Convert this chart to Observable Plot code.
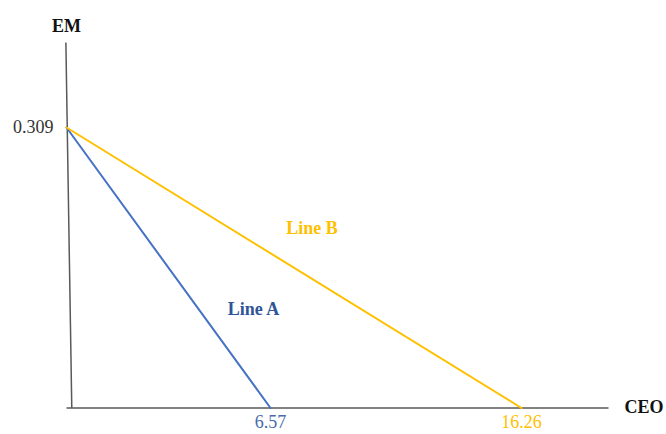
<!DOCTYPE html>
<html>
<head>
<meta charset="utf-8">
<script src="https://cdn.jsdelivr.net/npm/d3@7"></script>
<script src="https://cdn.jsdelivr.net/npm/@observablehq/plot@0.6"></script>
<style>
  html, body { margin: 0; padding: 0; background: #fff; }
  #chart svg { display: block; }
</style>
</head>
<body>
<div id="chart"></div>
<script>
// ---- data ----
const lineNames = ["Line A", "Line B"];
const xIntercepts = [6.57, 16.26];       // CEO intercepts
const yIntercept = 0.309;                // shared EM intercept
const lineColors = ["#4472C4", "#FFC000"];
const labelColors = ["#2F5597", "#FFC000"];
const tickColors = ["#4A6AAA", "#FFC000"];
const xAxisLabel = "CEO";
const yAxisLabel = "EM";

// ---- derived tables ----
const segments = lineNames.flatMap((name, i) => [
  {name, x: 0, y: yIntercept},
  {name, x: xIntercepts[i], y: 0}
]);
const xTicks = xIntercepts.map((v, i) => ({v, i}));

// schematic (not-to-scale) drawing: the x scale is piecewise via a scale transform
const xSchematic = d3.scaleLinear().domain([0, xIntercepts[0], xIntercepts[1]]).range([0, 204, 455]);
const xAxisEnd = xSchematic.invert(542);
const yAxisTop = yIntercept * (407.5 - 42) / (407.5 - 127);

const font = "Liberation Serif, Times New Roman, serif";

const chart = Plot.plot({
  width: 666,
  height: 434,
  marginLeft: 0, marginRight: 0, marginTop: 0, marginBottom: 0,
  x: {transform: xSchematic, domain: [0, 455], range: [66, 521], axis: null},
  y: {domain: [0, yIntercept], range: [407.5, 127], axis: null},
  style: {fontFamily: font, background: "#fff"},
  marks: [
    // axes
    Plot.link([0], {x1: () => 0, y1: () => 0, x2: () => xAxisEnd, y2: () => 0, stroke: "#595959", strokeWidth: 1.5}),
    Plot.link([0], {x1: () => -0.02, y1: () => yAxisTop, x2: () => 0.17, y2: () => 0, stroke: "#595959", strokeWidth: 1.5}),
    // lines
    Plot.line(segments, {x: "x", y: "y", z: "name",
      stroke: d => lineColors[lineNames.indexOf(d.name)], strokeWidth: 2}),
    // line labels (anchored at the shared EM intercept)
    Plot.text([lineNames[0]], {x: () => 0, y: () => yIntercept, text: d => d, dx: 187, dy: 182,
      fill: labelColors[0], fontSize: 18, fontWeight: "bold"}),
    Plot.text([lineNames[1]], {x: () => 0, y: () => yIntercept, text: d => d, dx: 245.5, dy: 101,
      fill: labelColors[1], fontSize: 18, fontWeight: "bold"}),
    // x tick labels
    Plot.text(xTicks, {x: "v", y: () => 0, text: d => d3.format(".2f")(d.v), dy: 20, lineAnchor: "bottom",
      fill: d => tickColors[d.i], fontSize: 18,
      fontWeight: d => d.i === 0 ? "bold" : "normal"}),
    // y tick label
    Plot.text([yIntercept], {x: () => 0, y: d => d, text: d => String(d), dx: -13, dy: 5, lineAnchor: "bottom",
      textAnchor: "end", fill: "#333", fontSize: 18}),
    // axis titles
    Plot.text([xAxisLabel], {x: () => xAxisEnd, y: () => 0, text: d => d, dx: 16, dy: 5, lineAnchor: "bottom",
      textAnchor: "start", fill: "#111", fontSize: 18, fontWeight: "bold"}),
    Plot.text([yAxisLabel], {x: () => 0, y: () => yAxisTop, text: d => d, dy: -11, lineAnchor: "bottom",
      fill: "#111", fontSize: 18, fontWeight: "bold"})
  ]
});
document.getElementById("chart").appendChild(chart);
</script>
</body>
</html>
